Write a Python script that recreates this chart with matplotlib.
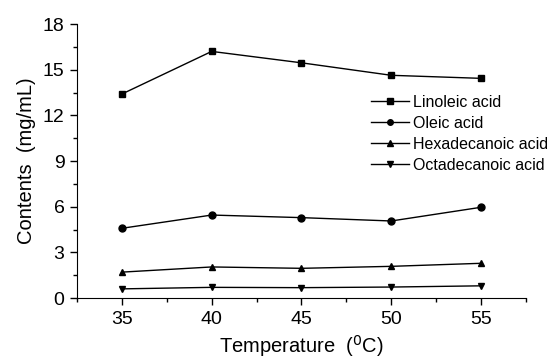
import matplotlib
matplotlib.use("Agg")
from matplotlib import pyplot as plt
from matplotlib.ticker import MultipleLocator

plt.rcParams['font.family'] = ['Liberation Sans', 'DejaVu Sans']

temperature = [35, 40, 45, 50, 55]
linoleic = [13.4, 16.2, 15.45, 14.63, 14.43]
oleic = [4.58, 5.45, 5.28, 5.06, 5.96]
hexadecanoic = [1.7, 2.04, 1.95, 2.08, 2.28]
octadecanoic = [0.6, 0.7, 0.68, 0.72, 0.8]

series = [
    ("Linoleic acid", linoleic, "s"),
    ("Oleic acid", oleic, "o"),
    ("Hexadecanoic acid", hexadecanoic, "^"),
    ("Octadecanoic acid", octadecanoic, "v"),
]

fig = plt.figure(figsize=(5.56, 3.61), dpi=100)
ax = fig.add_axes([0.1385, 0.1745, 0.8075, 0.759])

for name, values, marker in series:
    ax.plot(temperature, values, color="black", linewidth=1.0,
            marker=marker, markersize=5, label=name)

ax.set_xlim(32.5, 57.5)
ax.set_ylim(0, 18)
ax.xaxis.set_major_locator(MultipleLocator(5))
ax.xaxis.set_minor_locator(MultipleLocator(2.5))
ax.yaxis.set_major_locator(MultipleLocator(3))
ax.yaxis.set_minor_locator(MultipleLocator(1.5))

ax.spines["top"].set_visible(False)
ax.spines["right"].set_visible(False)
ax.tick_params(which="major", direction="out", length=5, width=1,
               labelsize=14, pad=4)
ax.tick_params(which="minor", direction="out", length=3, width=1)

ax.set_xlabel("Temperature  ($^{0}$C)", fontsize=14.5, labelpad=4)
ax.set_ylabel("Contents  (mg/mL)", fontsize=14.5, labelpad=5)

ax.legend(loc="center left", bbox_to_anchor=(0.655, 0.60), frameon=False,
          fontsize=11.5, handlelength=2.4, handletextpad=0.25,
          labelspacing=0.38, borderaxespad=0, borderpad=0, markerscale=0.8)

fig.savefig("out.png", dpi=100)
